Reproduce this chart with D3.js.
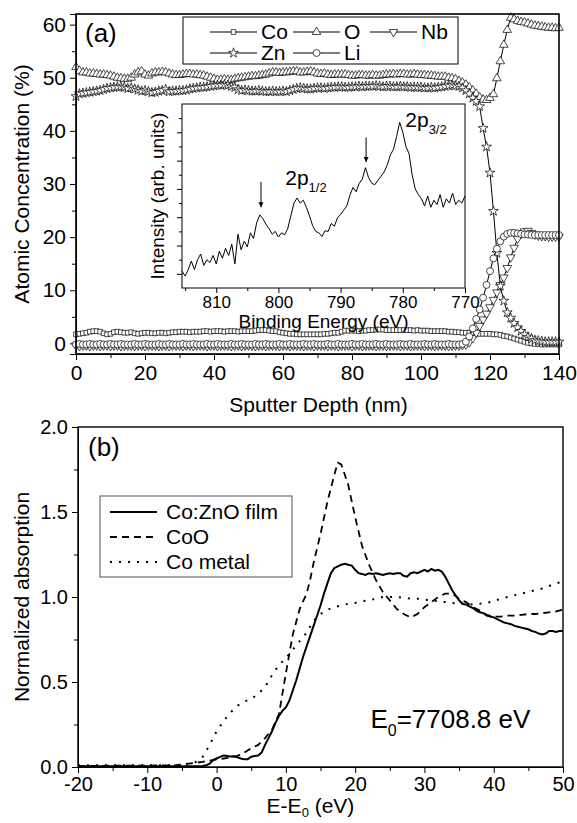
<!DOCTYPE html>
<meta charset="utf-8">
<script src="https://d3js.org/d3.v7.min.js"></script>
<style>
  body { margin: 0; background: #fff; }
  text { font-family: "Liberation Sans", Arial, sans-serif; fill: #000; }
</style>
<div id="chart"></div>
<script>

// ---- panel (a): depth profile, 1 nm steps ----
var depth = [0,1,2,3,4,5,6,7,8,9,10,11,12,13,14,15,16,17,18,19,
  20,21,22,23,24,25,26,27,28,29,30,31,32,33,34,35,36,37,38,39,
  40,41,42,43,44,45,46,47,48,49,50,51,52,53,54,55,56,57,58,59,
  60,61,62,63,64,65,66,67,68,69,70,71,72,73,74,75,76,77,78,79,
  80,81,82,83,84,85,86,87,88,89,90,91,92,93,94,95,96,97,98,99,
  100,101,102,103,104,105,106,107,108,109,110,111,112,113,114,115,116,117,118,119,
  120,121,122,123,124,125,126,127,128,129,130,131,132,133,134,135,136,137,138,139,140];

var coVals = [1.7,1.8,1.9,2.0,2.2,2.3,2.3,2.2,1.9,1.7,
  1.8,2.1,2.2,2.1,2.0,2.0,2.1,1.9,1.8,1.9,
  2.0,2.0,1.9,1.9,2.0,2.0,1.9,2.0,2.1,2.1,
  2.2,2.2,2.2,2.1,2.2,2.2,2.2,2.3,2.3,2.2,
  2.3,2.3,2.3,2.2,2.3,2.3,2.3,2.2,2.3,2.3,
  2.3,2.3,2.4,2.5,2.5,2.5,2.4,2.3,2.3,2.1,
  2.0,1.9,1.8,1.8,1.7,1.7,1.7,1.7,1.7,1.7,
  1.7,1.7,1.8,1.8,1.9,2.0,2.0,2.2,2.4,2.4,
  2.4,2.4,2.3,2.4,2.4,2.5,2.5,2.6,2.6,2.6,
  2.5,2.5,2.5,2.5,2.5,2.5,2.5,2.5,2.4,2.5,
  2.4,2.4,2.4,2.3,2.3,2.3,2.3,2.3,2.2,2.2,
  2.1,2.1,2.0,2.0,2.0,1.9,1.8,1.8,1.8,1.8,
  1.8,1.7,1.7,1.6,1.4,1.3,1.1,0.9,0.7,0.5,
  0.3,0.1,0.0,-0.1,-0.1,-0.2,-0.2,-0.2,-0.2,-0.2,
  -0.2];

var oVals = [52.0,51.3,51.0,51.0,50.8,50.8,50.7,50.6,50.6,50.5,
  50.4,50.2,50.0,49.9,49.8,49.8,50.0,50.6,51.0,51.2,
  50.6,50.4,50.8,51.0,51.0,51.1,51.0,50.8,50.6,50.5,
  50.5,50.6,50.7,50.7,50.6,50.6,50.5,50.4,50.2,50.0,
  49.8,49.6,49.6,49.7,49.6,49.6,49.8,49.9,50.0,50.1,
  50.2,50.3,50.3,50.4,50.5,50.6,50.8,51.0,51.0,50.9,
  51.0,51.0,51.1,51.2,51.2,51.0,51.0,51.1,51.2,51.0,
  50.8,50.7,50.8,50.6,50.5,50.6,50.6,50.6,50.6,50.5,
  50.4,50.4,50.5,50.5,50.4,50.4,50.5,50.4,50.4,50.5,
  50.6,50.6,50.7,50.6,50.7,50.7,50.6,50.6,50.7,50.6,
  50.5,50.5,50.4,50.4,50.3,50.2,50.2,50.2,50.0,49.9,
  49.7,49.4,49.1,48.7,48.2,47.6,47.0,46.3,45.9,45.8,
  46.2,46.9,49.9,53.1,56.2,59.0,61.3,61.0,60.7,60.5,
  60.4,60.2,60.0,59.8,59.7,59.6,59.5,59.4,59.4,59.3,
  59.4];

var nbVals = [-0.4,-0.5,-0.4,-0.4,-0.5,-0.4,-0.4,-0.5,-0.4,-0.4,
  -0.5,-0.4,-0.4,-0.5,-0.4,-0.4,-0.4,-0.5,-0.4,-0.4,
  -0.5,-0.4,-0.4,-0.4,-0.5,-0.4,-0.4,-0.5,-0.4,-0.4,
  -0.4,-0.5,-0.4,-0.4,-0.5,-0.4,-0.4,-0.4,-0.5,-0.4,
  -0.4,-0.5,-0.4,-0.4,-0.4,-0.5,-0.4,-0.4,-0.5,-0.4,
  -0.4,-0.4,-0.5,-0.4,-0.4,-0.5,-0.4,-0.4,-0.4,-0.5,
  -0.4,-0.4,-0.5,-0.4,-0.4,-0.4,-0.5,-0.4,-0.4,-0.5,
  -0.4,-0.4,-0.4,-0.5,-0.4,-0.4,-0.5,-0.4,-0.4,-0.4,
  -0.5,-0.4,-0.4,-0.5,-0.4,-0.4,-0.4,-0.5,-0.4,-0.4,
  -0.5,-0.4,-0.4,-0.4,-0.5,-0.4,-0.4,-0.5,-0.4,-0.4,
  -0.4,-0.5,-0.4,-0.4,-0.5,-0.4,-0.4,-0.4,-0.5,-0.4,
  -0.4,-0.4,-0.3,-0.2,0.2,1.0,2.0,3.3,4.5,5.6,
  6.8,8.2,9.6,11.0,12.4,14.2,16.2,18.0,19.7,20.6,
  21.1,21.2,20.8,20.5,20.3,20.2,20.2,20.1,20.1,20.1,
  20.1];

var znVals = [46.5,47.0,47.1,47.2,47.3,47.4,47.5,47.6,47.8,48.0,
  48.1,48.2,48.3,48.3,48.2,48.0,48.1,47.9,47.7,47.5,
  47.6,47.4,47.2,47.3,47.5,47.6,47.8,47.4,47.5,47.5,
  47.6,47.6,47.7,47.9,48.0,48.1,48.2,48.2,48.3,48.4,
  48.5,48.6,48.6,48.7,48.6,48.4,48.2,47.8,47.6,47.7,
  47.6,47.5,47.5,47.6,47.5,47.4,47.4,47.5,47.4,47.4,
  47.5,47.4,47.6,47.8,48.0,48.1,48.0,47.9,47.9,48.0,
  48.1,48.1,48.0,48.1,48.2,48.2,48.3,48.3,48.2,48.2,
  48.3,48.3,48.4,48.3,48.4,48.4,48.4,48.5,48.4,48.3,
  48.4,48.4,48.3,48.3,48.4,48.3,48.3,48.2,48.2,48.2,
  48.2,48.1,48.1,48.2,48.1,48.2,48.3,48.4,48.5,48.6,
  48.5,48.4,48.1,47.6,47.0,46.2,45.6,44.6,40.5,37.0,
  32.1,24.9,17.0,10.8,8.0,5.8,4.8,3.8,3.0,2.3,
  1.7,1.2,0.9,0.6,0.5,0.4,0.3,0.3,0.3,0.3,
  0.3];

var liVals = [-0.2,-0.1,-0.2,-0.2,-0.1,-0.2,-0.2,-0.1,-0.2,-0.2,
  -0.1,-0.2,-0.2,-0.1,-0.2,-0.2,-0.2,-0.1,-0.2,-0.2,
  -0.1,-0.2,-0.2,-0.2,-0.1,-0.2,-0.2,-0.1,-0.2,-0.2,
  -0.2,-0.1,-0.2,-0.2,-0.1,-0.2,-0.2,-0.2,-0.1,-0.2,
  -0.2,-0.1,-0.2,-0.2,-0.2,-0.1,-0.2,-0.2,-0.1,-0.2,
  -0.2,-0.2,-0.1,-0.2,-0.2,-0.1,-0.2,-0.2,-0.2,-0.1,
  -0.2,-0.2,-0.1,-0.2,-0.2,-0.2,-0.1,-0.2,-0.2,-0.1,
  -0.2,-0.2,-0.2,-0.1,-0.2,-0.2,-0.1,-0.2,-0.2,-0.2,
  -0.1,-0.2,-0.2,-0.1,-0.2,-0.2,-0.2,-0.1,-0.2,-0.2,
  -0.1,-0.2,-0.2,-0.2,-0.1,-0.2,-0.2,-0.1,-0.2,-0.2,
  -0.2,-0.1,-0.2,-0.2,-0.1,-0.2,-0.2,-0.2,-0.1,-0.2,
  -0.2,-0.2,-0.1,0.3,1.3,2.8,4.6,6.4,8.6,11.0,
  13.6,16.0,17.8,19.2,20.1,20.6,20.8,20.8,20.7,20.6,
  20.5,20.5,20.4,20.4,20.4,20.4,20.4,20.4,20.4,20.4,
  20.4];

// ---- inset: Co 2p XPS ----
var xpsEnergy = [815.5,815,814.5,814,813.5,813,812.5,812,811.5,811,810.5,810,809.5,809,808.5,808,807.5,807,806.5,806,
  805.5,805,804.5,804,803.5,803,802.5,802,801.5,801,800.5,800,799.5,799,798.5,798,797.5,797,796.5,796,
  795.5,795,794.5,794,793.5,793,792.5,792,791.5,791,790.5,790,789.5,789,788.5,788,787.5,787,786.5,786,
  785.5,785,784.5,784,783.5,783,782.5,782,781.5,781,780.5,780,779.5,779,778.5,778,777.5,777,776.5,776,
  775.5,775,774.5,774,773.5,773,772.5,772,771.5,771,770.5,770];
var xpsIntensity = [1.0,-0.8,1.5,4.5,1.5,5.0,7.0,3.0,5.0,4.0,6.5,3.5,8.0,5.5,9.0,6.5,10.5,3.5,14.0,8.5,
  11.5,9.5,14.5,12.5,18.0,20.8,19.5,17.5,16.0,14.0,15.0,13.0,14.5,13.8,16.0,20.5,25.0,26.8,25.0,26.0,
  23.5,20.5,17.0,15.0,14.5,13.2,15.2,15.0,17.8,16.8,19.8,21.0,22.5,24.0,27.8,30.5,29.0,32.0,33.5,37.5,
  34.0,32.0,31.5,33.0,34.5,36.0,38.5,42.0,44.0,48.5,53.5,50.0,45.0,42.5,35.0,30.0,28.0,26.5,24.0,27.5,
  23.5,26.0,24.5,28.0,23.5,26.5,25.0,28.5,24.5,26.0,25.0,27.5];

// ---- panel (b): Co K-edge XANES ----
var filmE = [-20,-15,-10,-5,-3,-2.5,-2,-1.5,-1,-0.5,0,0.5,1,1.5,2,2.5,3,3.5,4,4.5,5,5.5,6,6.5,7,7.5,8,8.5,9,9.5,
  10,10.5,11,11.5,12,12.5,13,13.5,14,14.5,15,15.5,16,16.5,17,17.5,18,18.5,19,19.5,20,20.5,21,21.5,22,22.5,23,23.5,24,24.5,
  25,25.5,26,26.5,27,27.5,28,28.5,29,29.5,30,30.5,31,31.5,32,32.5,33,33.5,34,34.5,35,35.5,36,36.5,37,37.5,38,38.5,39,39.5,
  40,40.5,41,41.5,42,42.5,43,43.5,44,44.5,45,45.5,46,46.5,47,47.5,48,48.5,49,49.5,50];
var filmA = [0.005,0.005,0.005,0.005,0.005,0.005,0.006,0.01,0.02,0.04,0.05,0.06,0.068,0.065,0.062,0.063,0.057,0.05,0.045,0.046,0.06,0.065,0.068,0.085,0.13,0.17,0.21,0.26,0.30,0.33,
  0.35,0.39,0.45,0.51,0.58,0.65,0.71,0.77,0.83,0.89,0.95,1.02,1.08,1.14,1.17,1.18,1.19,1.195,1.19,1.185,1.16,1.14,1.135,1.13,1.14,1.135,1.14,1.135,1.13,1.135,
  1.14,1.135,1.14,1.14,1.125,1.12,1.14,1.145,1.14,1.15,1.16,1.15,1.165,1.155,1.16,1.15,1.12,1.08,1.04,1.01,0.98,0.96,0.955,0.945,0.935,0.92,0.91,0.905,0.89,0.885,
  0.88,0.87,0.86,0.85,0.845,0.84,0.83,0.825,0.82,0.815,0.81,0.80,0.795,0.785,0.78,0.785,0.80,0.80,0.795,0.80,0.80];

var cooE = [-20,-15,-10,-6,-5,-4,-3,-2,-1,0,1,2,3,4,5,6,7,8,9,10,11,12,13,13.5,14,15,16,17,17.5,18,
  19,20,21,22,23,24,25,26,27,28,29,30,31,32,33,34,35,36,37,38,39,40,41,42,43,44,45,46,47,48,49,50];
var cooA = [0.005,0.008,0.008,0.01,0.015,0.02,0.025,0.03,0.038,0.045,0.05,0.055,0.065,0.085,0.11,0.13,0.17,0.22,0.31,0.55,0.78,0.93,1.02,1.10,1.20,1.37,1.56,1.72,1.79,1.78,
  1.66,1.47,1.30,1.19,1.10,1.03,0.98,0.93,0.90,0.88,0.90,0.94,0.97,1.00,1.02,1.02,0.99,0.97,0.94,0.92,0.895,0.885,0.885,0.89,0.89,0.895,0.90,0.90,0.905,0.91,0.915,0.925];

var metalE = [-20,-15,-10,-6,-4,-3,-2,-1,0,1,2,3,4,5,6,7,8,9,10,11,12,13,14,15,16,17,18,19,20,
  21,22,23,24,25,26,27,28,29,30,31,32,33,34,35,36,37,38,39,40,41,42,43,44,45,46,47,48,49,50];
var metalA = [0.01,0.01,0.01,0.01,0.02,0.03,0.06,0.13,0.21,0.27,0.32,0.36,0.385,0.40,0.43,0.47,0.54,0.60,0.64,0.69,0.74,0.79,0.86,0.90,0.925,0.94,0.95,0.96,0.965,
  0.975,0.98,0.99,1.0,1.0,1.0,0.995,0.99,0.99,0.985,0.98,0.975,0.97,0.965,0.96,0.96,0.955,0.96,0.965,0.975,0.99,1.0,1.01,1.02,1.03,1.04,1.05,1.065,1.08,1.09];


var svg = d3.select("#chart").append("svg")
  .attr("width", 577)
  .attr("height", 823);

svg.append("rect").attr("width", 577).attr("height", 823).attr("fill", "#fff");

// plain hyphen for negative tick labels, like the original
var hyphen = function(d) { return d < 0 ? "-" + Math.abs(d) : "" + d; };

// ================= panel (a) =================
var marginA = {left: 76, top: 14},
    widthA = 483, heightA = 340;

var gA = svg.append("g")
  .attr("transform", "translate(" + marginA.left + "," + marginA.top + ")");

var xA = d3.scaleLinear().domain([0, 140]).range([0, widthA]);
var yA = d3.scaleLinear().domain([-2, 62]).range([heightA, 0]);

// minor ticks first, then major with labels
gA.append("g")
  .attr("transform", "translate(0," + heightA + ")")
  .call(d3.axisBottom(xA).tickValues([10, 30, 50, 70, 90, 110, 130]).tickSize(4).tickFormat(""));
gA.append("g")
  .attr("transform", "translate(0," + heightA + ")")
  .call(d3.axisBottom(xA).tickValues([0, 20, 40, 60, 80, 100, 120, 140]).tickSize(6).tickPadding(5))
  .style("font-size", "21px");
gA.append("g")
  .call(d3.axisLeft(yA).tickValues([5, 15, 25, 35, 45, 55]).tickSize(4).tickFormat(""));
gA.append("g")
  .call(d3.axisLeft(yA).tickValues([0, 10, 20, 30, 40, 50, 60]).tickSize(6).tickPadding(4))
  .style("font-size", "21px");

var line = d3.line()
  .x(function(d) { return xA(d[0]); })
  .y(function(d) { return yA(d[1]); });

var seriesA = [
  {name: "Co", vals: coVals, sym: d3.symbolSquare, size: 22, rot: 0},
  {name: "O", vals: oVals, sym: d3.symbolTriangle, size: 32, rot: 0},
  {name: "Nb", vals: nbVals, sym: d3.symbolTriangle, size: 32, rot: 180},
  {name: "Zn", vals: znVals, sym: d3.symbolStar, size: 30, rot: 0},
  {name: "Li", vals: liVals, sym: d3.symbolCircle, size: 38, rot: 0}
];

seriesA.forEach(function(s) {
  var pts = depth.map(function(d, i) { return [d, s.vals[i]]; });
  gA.append("path")
    .datum(pts)
    .attr("fill", "none")
    .attr("stroke", "#000")
    .attr("stroke-width", 1)
    .attr("d", line);
  gA.append("g")
    .selectAll("path")
    .data(pts)
    .enter()
    .append("path")
      .attr("d", d3.symbol().type(s.sym).size(s.size))
      .attr("transform", function(d) {
        return "translate(" + xA(d[0]) + "," + yA(d[1]) + ") rotate(" + s.rot + ")";
      })
      .attr("fill", "#fff")
      .attr("stroke", "#000")
      .attr("stroke-width", 0.7);
});

// frame
gA.append("rect")
  .attr("width", widthA).attr("height", heightA)
  .attr("fill", "none").attr("stroke", "#000").attr("stroke-width", 1.6);

gA.append("text")
  .attr("x", 9).attr("y", 28)
  .style("font-size", "26px")
  .text("(a)");

// legend (a)
var legA = gA.append("g").attr("transform", "translate(107,3)");
legA.append("rect")
  .attr("width", 275).attr("height", 47)
  .attr("fill", "#fff").attr("stroke", "#000").attr("stroke-width", 1);
var legItems = [
  {s: seriesA[0], x: 27, y: 15},
  {s: seriesA[1], x: 110, y: 15},
  {s: seriesA[2], x: 187, y: 15},
  {s: seriesA[3], x: 27, y: 36},
  {s: seriesA[4], x: 110, y: 36}
];
legItems.forEach(function(it) {
  legA.append("line")
    .attr("x1", it.x).attr("x2", it.x + 47)
    .attr("y1", it.y).attr("y2", it.y)
    .attr("stroke", "#000").attr("stroke-width", 1.2);
  legA.append("path")
    .attr("d", d3.symbol().type(it.s.sym).size(it.s.size))
    .attr("transform", "translate(" + (it.x + 23.5) + "," + it.y + ") rotate(" + it.s.rot + ")")
    .attr("fill", "#fff").attr("stroke", "#000").attr("stroke-width", 0.7);
  legA.append("text")
    .attr("x", it.x + 51).attr("y", it.y + 7)
    .style("font-size", "21px")
    .text(it.s.name);
});

// axis titles (a)
svg.append("text")
  .attr("x", marginA.left + widthA / 2 + 1)
  .attr("y", 412)
  .attr("text-anchor", "middle")
  .style("font-size", "21px")
  .text("Sputter Depth (nm)");
svg.append("text")
  .attr("transform", "translate(29," + (marginA.top + heightA / 2) + ") rotate(-90)")
  .attr("text-anchor", "middle")
  .style("font-size", "21px")
  .text("Atomic Concentration (%)");

// ================= inset =================
var marginI = {left: 182, top: 104},
    widthI = 283, heightI = 184;
var gI = svg.append("g")
  .attr("transform", "translate(" + marginI.left + "," + marginI.top + ")");

gI.append("rect")
  .attr("width", widthI).attr("height", heightI)
  .attr("fill", "#fff");

var xI = d3.scaleLinear().domain([815.5, 770]).range([0, widthI]);
var yI = d3.scaleLinear().domain([-5, 60]).range([heightI, 0]);

gI.append("g")
  .attr("transform", "translate(0," + heightI + ")")
  .call(d3.axisBottom(xI).tickValues([815, 805, 795, 785, 775]).tickSize(3).tickFormat(""));
gI.append("g")
  .attr("transform", "translate(0," + heightI + ")")
  .call(d3.axisBottom(xI).tickValues([810, 800, 790, 780, 770]).tickSize(5).tickPadding(3))
  .style("font-size", "17px");
gI.append("g")
  .call(d3.axisLeft(yI).tickValues([5, 15, 25, 35, 45, 55]).tickSize(3).tickFormat(""));
gI.append("g")
  .call(d3.axisLeft(yI).tickValues([0, 10, 20, 30, 40, 50]).tickSize(5).tickFormat(""));

gI.selectAll(".domain").remove();
gI.append("rect")
  .attr("width", widthI).attr("height", heightI)
  .attr("fill", "none").attr("stroke", "#000").attr("stroke-width", 1);

var xpsPts = xpsEnergy.map(function(e, i) { return [e, xpsIntensity[i]]; });
gI.append("path")
  .datum(xpsPts)
  .attr("fill", "none")
  .attr("stroke", "#000")
  .attr("stroke-width", 1)
  .attr("d", d3.line()
    .x(function(d) { return xI(d[0]); })
    .y(function(d) { return yI(d[1]); }));

// arrows on satellite peaks
svg.append("defs").append("marker")
  .attr("id", "head")
  .attr("viewBox", "0 0 10 10")
  .attr("refX", 10).attr("refY", 5)
  .attr("markerWidth", 5).attr("markerHeight", 6)
  .attr("orient", "auto")
  .append("path").attr("d", "M0,0 L10,5 L0,10 z").attr("fill", "#000");

[[802.8, 32.5, 23.5], [785.9, 48.2, 39.5]].forEach(function(a) {
  gI.append("line")
    .attr("x1", xI(a[0])).attr("x2", xI(a[0]))
    .attr("y1", yI(a[1])).attr("y2", yI(a[2]))
    .attr("stroke", "#000").attr("stroke-width", 1)
    .attr("marker-end", "url(#head)");
});

var lab1 = gI.append("text")
  .attr("x", xI(798.9)).attr("y", yI(31.4))
  .style("font-size", "21px");
lab1.append("tspan").text("2p");
lab1.append("tspan").attr("dy", 7).style("font-size", "13px").text("1/2");

var lab2 = gI.append("text")
  .attr("x", xI(779.6)).attr("y", yI(51.9))
  .style("font-size", "21px");
lab2.append("tspan").text("2p");
lab2.append("tspan").attr("dy", 7).style("font-size", "13px").text("3/2");

gI.append("text")
  .attr("x", widthI / 2).attr("y", heightI + 40)
  .attr("text-anchor", "middle")
  .style("font-size", "19px")
  .text("Binding Energy (eV)");
gI.append("text")
  .attr("transform", "translate(-18," + (heightI / 2) + ") rotate(-90)")
  .attr("text-anchor", "middle")
  .style("font-size", "19px")
  .text("Intensity (arb. units)");

// ================= panel (b) =================
var marginB = {left: 78, top: 427},
    widthB = 485, heightB = 340;
var gB = svg.append("g")
  .attr("transform", "translate(" + marginB.left + "," + marginB.top + ")");

var xB = d3.scaleLinear().domain([-20, 50]).range([0, widthB]);
var yB = d3.scaleLinear().domain([0, 2]).range([heightB, 0]);

gB.append("g")
  .attr("transform", "translate(0," + heightB + ")")
  .call(d3.axisBottom(xB).tickValues([-15, -5, 5, 15, 25, 35, 45]).tickSize(4).tickFormat(""));
gB.append("g")
  .attr("transform", "translate(0," + heightB + ")")
  .call(d3.axisBottom(xB).tickValues([-20, -10, 0, 10, 20, 30, 40, 50]).tickSize(6).tickPadding(4).tickFormat(hyphen))
  .style("font-size", "20px");
gB.append("g")
  .call(d3.axisLeft(yB).tickValues([0.25, 0.75, 1.25, 1.75]).tickSize(4).tickFormat(""));
gB.append("g")
  .call(d3.axisLeft(yB).tickValues([0, 0.5, 1, 1.5, 2]).tickSize(6).tickPadding(4).tickFormat(d3.format(".1f")))
  .style("font-size", "20px");

var lineB = d3.line()
  .x(function(d) { return xB(d[0]); })
  .y(function(d) { return yB(d[1]); });

var seriesB = [
  {name: "Co:ZnO film", e: filmE, a: filmA, dash: null, width: 2},
  {name: "CoO", e: cooE, a: cooA, dash: "7,5", width: 1.8},
  {name: "Co metal", e: metalE, a: metalA, dash: "2,7", width: 2}
];

seriesB.forEach(function(s) {
  var pts = s.e.map(function(e, i) { return [e, s.a[i]]; });
  gB.append("path")
    .datum(pts)
    .attr("fill", "none")
    .attr("stroke", "#000")
    .attr("stroke-width", s.width)
    .attr("stroke-dasharray", s.dash)
    .attr("d", lineB);
});

gB.append("rect")
  .attr("width", widthB).attr("height", heightB)
  .attr("fill", "none").attr("stroke", "#000").attr("stroke-width", 1.4);

gB.append("text")
  .attr("x", 10).attr("y", 29)
  .style("font-size", "26px")
  .text("(b)");

// legend (b)
var legB = gB.append("g").attr("transform", "translate(22,69)");
legB.append("rect")
  .attr("width", 192).attr("height", 81)
  .attr("fill", "#fff").attr("stroke", "#555").attr("stroke-width", 1);
seriesB.forEach(function(s, i) {
  var yy = 16 + i * 25;
  legB.append("line")
    .attr("x1", 10).attr("x2", 57)
    .attr("y1", yy).attr("y2", yy)
    .attr("stroke", "#000")
    .attr("stroke-width", s.width)
    .attr("stroke-dasharray", s.dash);
  legB.append("text")
    .attr("x", 66).attr("y", yy + 7)
    .style("font-size", "21px")
    .text(s.name);
});

var e0 = gB.append("text")
  .attr("x", xB(22.2)).attr("y", yB(0.23))
  .style("font-size", "26px");
e0.append("tspan").text("E");
e0.append("tspan").attr("dy", 8).style("font-size", "16px").text("0");
e0.append("tspan").attr("dy", -8).text("=7708.8 eV");

// axis titles (b)
var xt = svg.append("text")
  .attr("x", marginB.left + widthB / 2 - 10)
  .attr("y", 813)
  .attr("text-anchor", "middle")
  .style("font-size", "21px");
xt.append("tspan").text("E-E");
xt.append("tspan").attr("dy", 4).style("font-size", "13px").text("0");
xt.append("tspan").attr("dy", -4).text(" (eV)");

svg.append("text")
  .attr("transform", "translate(29," + (marginB.top + heightB / 2) + ") rotate(-90)")
  .attr("text-anchor", "middle")
  .style("font-size", "21px")
  .text("Normalized absorption");

svg.selectAll(".tick text").attr("fill", "#000");
svg.selectAll(".domain, .tick line").attr("stroke", "#000");

</script>
